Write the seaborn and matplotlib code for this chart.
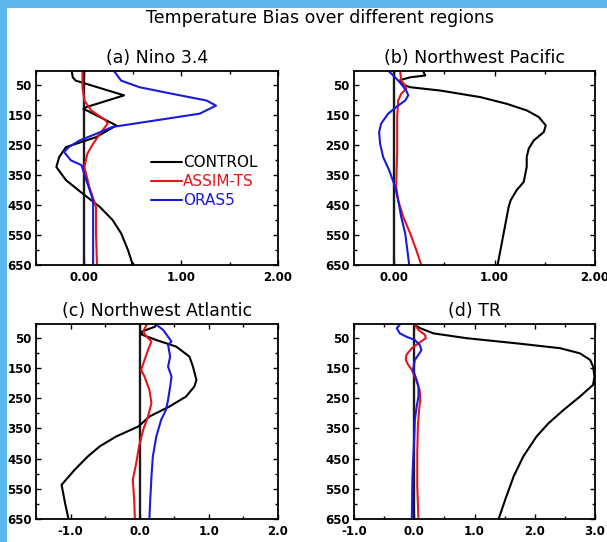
import numpy as np
import pandas as pd
import matplotlib
matplotlib.use("Agg")
import matplotlib.pyplot as plt
import matplotlib.patches as mpatches
from matplotlib.ticker import MultipleLocator, FormatStrFormatter
import seaborn as sns

# ============ DATA ============
RUNS   = ["CONTROL", "ASSIM-TS", "ORAS5"]
COLORS = {"CONTROL": "black", "ASSIM-TS": "#e8141c", "ORAS5": "#1a1adc"}

# (a) Nino 3.4
a_ctl_depth = [7, 26, 37, 86, 125, 131, 137, 186, 225, 258, 291, 324, 368, 412, 457, 500, 545, 600, 650]
a_ctl_bias  = [-0.13, -0.12, -0.09, 0.41, 0.02, -0.01, 0.03, 0.33, 0.12, -0.19, -0.26, -0.29, -0.19, -0.02, 0.16, 0.29, 0.38, 0.45, 0.50]
a_asm_depth = [7, 59, 103, 136, 169, 180, 214, 247, 280, 324, 390, 457, 545, 650]
a_asm_bias  = [-0.02, -0.02, 0.00, 0.07, 0.22, 0.24, 0.16, 0.09, 0.03, 0.00, 0.05, 0.12, 0.12, 0.13]
a_ora_depth = [7, 37, 59, 81, 103, 120, 147, 169, 191, 214, 236, 258, 274, 302, 318, 368, 435, 545, 650]
a_ora_bias  = [0.31, 0.38, 0.57, 0.91, 1.26, 1.36, 1.19, 0.74, 0.29, 0.12, -0.05, -0.16, -0.21, -0.14, -0.03, 0.02, 0.09, 0.09, 0.09]

# (b) Northwest Pacific
b_ctl_depth = [7, 20, 26, 35, 48, 59, 70, 92, 114, 136, 158, 186, 208, 236, 263, 291, 324, 374, 401, 435, 457, 545, 650]
b_ctl_bias  = [0.29, 0.31, 0.16, 0.06, 0.07, 0.16, 0.46, 0.86, 1.12, 1.32, 1.44, 1.51, 1.49, 1.39, 1.34, 1.32, 1.32, 1.29, 1.22, 1.16, 1.14, 1.09, 1.03]
b_asm_depth = [7, 37, 53, 64, 81, 103, 158, 269, 390, 435, 490, 545, 600, 650]
b_asm_bias  = [0.06, 0.07, 0.11, 0.12, 0.07, 0.04, 0.03, 0.03, 0.02, 0.04, 0.09, 0.16, 0.22, 0.27]
b_ora_depth = [7, 26, 48, 70, 86, 103, 125, 147, 180, 208, 247, 291, 335, 390, 435, 490, 545, 650]
b_ora_bias  = [-0.05, 0.01, 0.07, 0.12, 0.14, 0.11, 0.02, -0.06, -0.13, -0.15, -0.14, -0.11, -0.05, 0.01, 0.04, 0.07, 0.11, 0.15]

# (c) Northwest Atlantic
c_ctl_depth = [7, 14, 30, 40, 58, 80, 113, 146, 190, 212, 245, 278, 311, 344, 377, 410, 443, 487, 537, 597, 650]
c_ctl_bias  = [0.24, 0.22, 0.03, 0.03, 0.24, 0.53, 0.72, 0.77, 0.82, 0.79, 0.67, 0.43, 0.14, -0.02, -0.34, -0.58, -0.75, -0.94, -1.13, -1.08, -1.03]
c_asm_depth = [7, 30, 47, 63, 91, 124, 157, 179, 223, 267, 311, 355, 410, 465, 520, 586, 650]
c_asm_bias  = [0.10, 0.05, 0.10, 0.17, 0.12, 0.07, 0.02, 0.07, 0.14, 0.17, 0.12, 0.05, -0.01, -0.05, -0.10, -0.08, -0.07]
c_ora_depth = [7, 25, 47, 63, 74, 113, 146, 179, 212, 256, 289, 322, 377, 443, 509, 597, 650]
c_ora_bias  = [0.24, 0.34, 0.41, 0.46, 0.41, 0.44, 0.41, 0.46, 0.44, 0.41, 0.38, 0.31, 0.24, 0.19, 0.17, 0.15, 0.14]

# (d) TR
d_ctl_depth = [7, 19, 36, 52, 69, 85, 102, 124, 146, 179, 206, 245, 289, 333, 377, 443, 509, 586, 650]
d_ctl_bias  = [0.00, 0.10, 0.32, 0.87, 1.70, 2.42, 2.75, 2.92, 2.97, 2.99, 2.97, 2.75, 2.48, 2.23, 2.03, 1.81, 1.65, 1.51, 1.40]
d_asm_depth = [7, 25, 41, 52, 69, 85, 107, 124, 140, 157, 190, 223, 256, 289, 344, 432, 542, 650]
d_asm_bias  = [0.01, 0.07, 0.18, 0.19, 0.07, -0.04, -0.13, -0.14, -0.10, -0.04, 0.03, 0.09, 0.10, 0.08, 0.06, 0.05, 0.05, 0.07]
d_ora_depth = [7, 19, 36, 47, 58, 74, 91, 107, 124, 157, 190, 212, 245, 278, 322, 377, 509, 650]
d_ora_bias  = [-0.24, -0.29, -0.24, -0.13, 0.01, 0.09, 0.12, 0.07, 0.01, -0.02, 0.04, 0.07, 0.07, 0.04, 0.01, 0.00, -0.03, -0.04]

TITLES  = ["(a) Nino 3.4", "(b) Northwest Pacific", "(c) Northwest Atlantic", "(d) TR"]
XLIMS   = [(-0.5, 2.0), (-0.4, 2.0), (-1.5, 2.0), (-1.0, 3.0)]
XFMT    = ["%.2f", "%.2f", "%.1f", "%.1f"]
YTICKS  = [50, 150, 250, 350, 450, 550, 650]

panels = [
    [(a_ctl_depth, a_ctl_bias), (a_asm_depth, a_asm_bias), (a_ora_depth, a_ora_bias)],
    [(b_ctl_depth, b_ctl_bias), (b_asm_depth, b_asm_bias), (b_ora_depth, b_ora_bias)],
    [(c_ctl_depth, c_ctl_bias), (c_asm_depth, c_asm_bias), (c_ora_depth, c_ora_bias)],
    [(d_ctl_depth, d_ctl_bias), (d_asm_depth, d_asm_bias), (d_ora_depth, d_ora_bias)],
]

# ============ FIGURE ============
sns.set_style("white")
plt.rcParams['font.family'] = ['DejaVu Sans']
plt.rcParams['text.color'] = 'black'

fig = plt.figure(figsize=(6.07, 5.42), dpi=100)
fig.patch.set_facecolor('#5bb6ec')
# white slide area
fig.add_artist(mpatches.Rectangle((7/607, 0), 1, 1 - 8/542, transform=fig.transFigure,
                                  facecolor='white', edgecolor='none', zorder=0))

fig.text(320/607, 1 - 18/542, "Temperature Bias over different regions",
         ha='center', va='center', fontsize=12.5, color='black')

boxes = [
    [36/607, 1 - 265/542, 242/607, 194/542],
    [354/607, 1 - 265/542, 241/607, 194/542],
    [36/607, 1 - 519/542, 242/607, 195/542],
    [354/607, 1 - 519/542, 241/607, 195/542],
]

for i, (box, series) in enumerate(zip(boxes, panels)):
    ax = fig.add_axes(box)
    frames = []
    for run, (dep, val) in zip(RUNS, series):
        frames.append(pd.DataFrame({'depth': dep, 'bias': val, 'run': run}))
    df = pd.concat(frames, ignore_index=True)

    ax.axvline(0, color='#1a1a1a', lw=1.7, zorder=1)
    sns.lineplot(data=df, x='bias', y='depth', hue='run', hue_order=RUNS,
                 palette=COLORS, orient='y', estimator=None, sort=True,
                 lw=1.5, ax=ax, legend=(i == 0))

    ax.set_xlim(*XLIMS[i])
    ax.set_ylim(650, 5)
    ax.set_yticks(YTICKS)
    ax.yaxis.set_minor_locator(MultipleLocator(50))
    ax.xaxis.set_major_locator(MultipleLocator(1.0))
    ax.xaxis.set_minor_locator(MultipleLocator(0.5))
    ax.xaxis.set_major_formatter(FormatStrFormatter(XFMT[i]))
    ax.set_xlabel('')
    ax.set_ylabel('')
    ax.tick_params(which='both', direction='in', top=True, right=True,
                   bottom=True, left=True, width=1.0, colors='black')
    ax.tick_params(which='major', length=3.5, labelsize=8.5)
    ax.tick_params(axis='x', which='major', pad=4.5)
    ax.tick_params(axis='y', which='major', pad=3)
    ax.tick_params(which='minor', length=2.5)
    for lab in ax.get_xticklabels() + ax.get_yticklabels():
        lab.set_fontweight('bold')
    for sp in ax.spines.values():
        sp.set_linewidth(1.3)
        sp.set_color('black')
    ax.set_title(TITLES[i], fontsize=12.5, pad=6, color='black')

    if i == 0:
        ax.legend(loc='center left', bbox_to_anchor=(0.45, 0.43),
                  frameon=False, handlelength=2.0, handletextpad=0.1,
                  labelspacing=0.25, fontsize=11, labelcolor='linecolor',
                  borderaxespad=0)

plt.savefig('out.png', dpi=100, facecolor=fig.get_facecolor())
